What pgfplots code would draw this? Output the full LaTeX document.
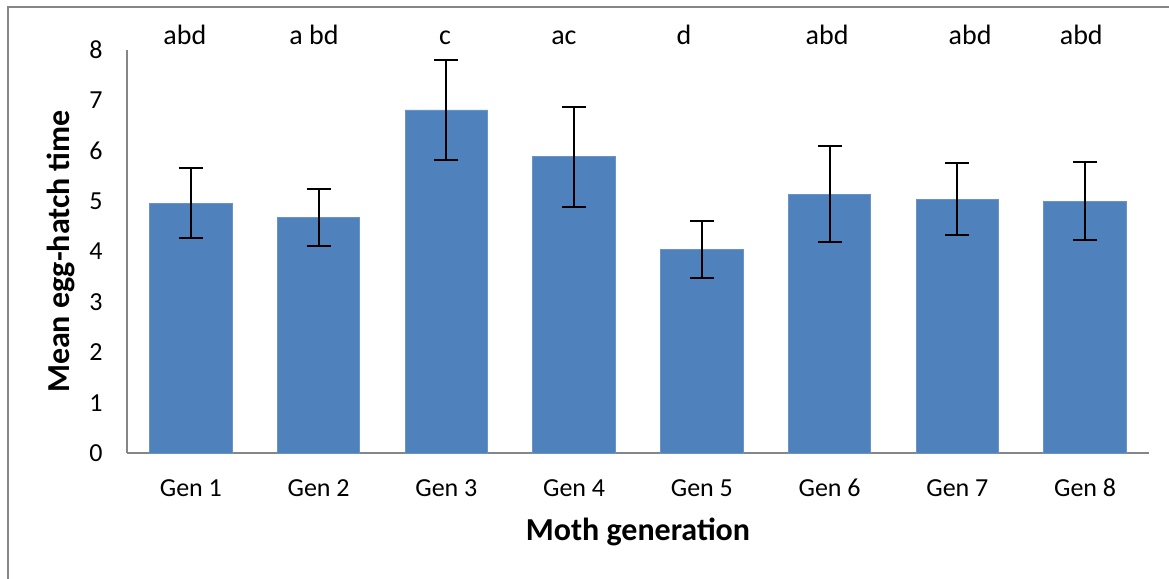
\documentclass[border=0pt]{standalone}
\usepackage{pgfplots}
\pgfplotsset{compat=1.18}
\usepackage{pgfplotstable}
\usepackage{fontspec}
\setmainfont{Carlito}

\definecolor{barblue}{HTML}{4F81BD}
\definecolor{axisgray}{HTML}{868686}

% generation, mean hatch time, error
\pgfplotstableread{
x  y     err
1  4.96  0.69
2  4.67  0.57
3  6.81  1.00
4  5.88  0.99
5  4.04  0.57
6  5.14  0.95
7  5.04  0.72
8  5.00  0.78
}\hatchdata

\begin{document}
\begin{tikzpicture}
\path[use as bounding box] (0,0) rectangle (584.5pt,-289.5pt);
\clip (0,0) rectangle (584.5pt,-289.5pt);
% chart frame
\draw[axisgray, line width=0.8pt] (4pt,-300pt) -- (4pt,-3.6pt) -- (600pt,-3.6pt);
\begin{axis}[
  at={(63.5pt,-226.5pt)}, anchor=south west,
  scale only axis, width=511pt, height=201.5pt,
  xmin=0.5, xmax=8.5, ymin=0, ymax=8,
  axis x line*=bottom, axis y line*=left,
  axis line style={axisgray, line width=0.8pt},
  x axis line style={-}, y axis line style={-},
  xtick={1,...,8},
  xticklabels={Gen 1,Gen 2,Gen 3,Gen 4,Gen 5,Gen 6,Gen 7,Gen 8},
  ytick={0,...,8},
  major tick length=0pt,
  tick label style={font=\fontsize{13}{15}\selectfont},
  yticklabel style={xshift=-8.7pt},
  xticklabel style={anchor=base, yshift=-21.5pt},
  /pgf/number format/assume math mode=true,
  xlabel={Moth generation},
  ylabel={Mean egg-hatch time},
  label style={font=\fontsize{16}{19}\selectfont\bfseries},
  xlabel style={at={(axis description cs:0.5,-0.196)}, anchor=center},
  ylabel style={at={(axis description cs:-0.0646,0.5)}, anchor=center},
  clip=false,
]
\addplot[ybar, bar width=41.25pt, fill=barblue, draw=barblue!85!white,
  error bars/.cd, y dir=both, y explicit,
  error bar style={black, line width=1pt},
  error mark options={rotate=90, mark size=6pt, black, line width=1pt}]
  table[x=x, y=y, y error=err] {\hatchdata};
% significance groups
\begin{scope}[every node/.style={font=\fontsize{14}{17}\selectfont, anchor=base}]
\node at (axis cs:0.953,8.1) {abd};
\node at (axis cs:1.963,8.1) {a bd};
\node at (axis cs:2.99,8.1) {c};
\node at (axis cs:3.92,8.1) {ac};
\node at (axis cs:4.86,8.1) {d};
\node at (axis cs:5.98,8.1) {abd};
\node at (axis cs:7.10,8.1) {abd};
\node at (axis cs:7.97,8.1) {abd};
\end{scope}
\end{axis}
\end{tikzpicture}
\end{document}
